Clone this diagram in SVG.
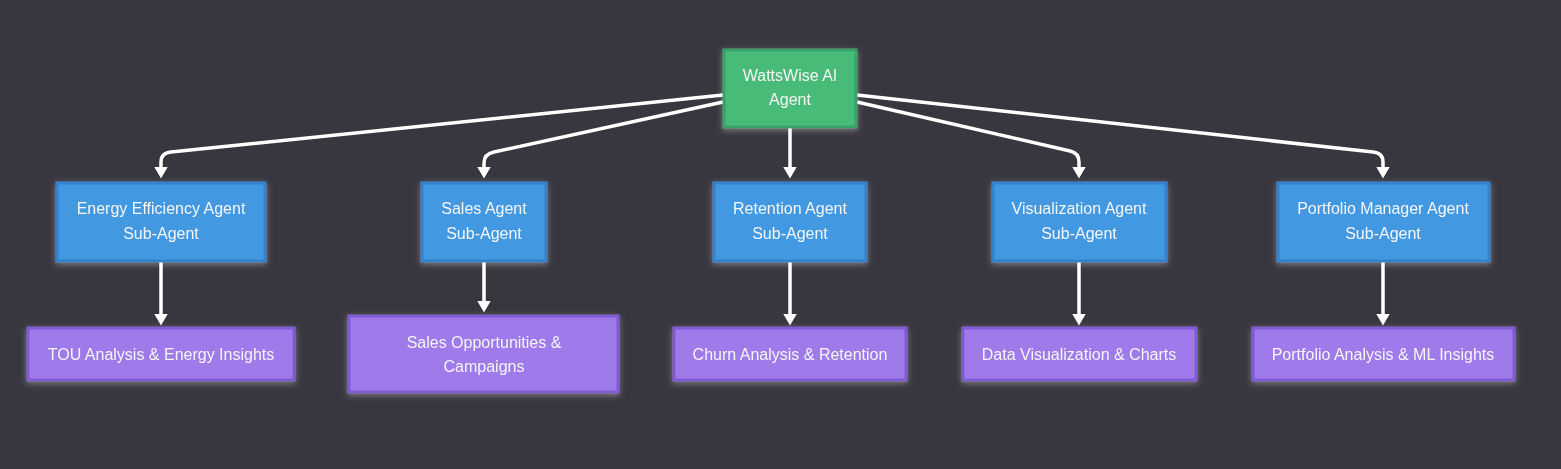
<svg xmlns="http://www.w3.org/2000/svg" width="1561" height="469" viewBox="0 0 1561 469">
<defs>
<style>
.bg{fill:#38363f}
.root{fill:#48bb78;stroke:#38a169;stroke-width:3}
.sub{fill:#4299e1;stroke:#3182ce;stroke-width:3}
.leaf{fill:#9f7aea;stroke:#805ad5;stroke-width:3}
.t{font-family:"Liberation Sans",Arial,sans-serif;font-size:16px;fill:#f5f5f5;text-anchor:middle}
.e{fill:none;stroke:#ffffff;stroke-width:3.5;marker-end:url(#arr)}
</style>
<filter id="glow" x="-20%" y="-30%" width="140%" height="160%">
<feDropShadow dx="0" dy="2" stdDeviation="3" flood-color="#ffffff" flood-opacity="0.35"/>
</filter>
<marker id="arr" viewBox="0 0 12 14" refX="0.5" refY="7" markerWidth="12" markerHeight="14" markerUnits="userSpaceOnUse" orient="auto">
<path d="M0,0 L12,7 L0,14 z" fill="#ffffff"/>
</marker>
</defs>
<rect class="bg" x="0" y="0" width="1561" height="469"/>
<g id="connectors">
<path class="e" d="M723,95 L171,152 Q161,153 161,162 L161,167"/>
<path class="e" d="M723,102 L494,152 Q484,154 484,163 L484,167"/>
<path class="e" d="M790,128 L790,167"/>
<path class="e" d="M857,102 L1070,151 Q1079,153 1079,162 L1079,167"/>
<path class="e" d="M857,95 L1373,152 Q1383,153 1383,162 L1383,167"/>
<path class="e" d="M161,262 L161,314"/>
<path class="e" d="M484,262 L484,301"/>
<path class="e" d="M790,262 L790,314"/>
<path class="e" d="M1079,262 L1079,314"/>
<path class="e" d="M1383,262 L1383,314"/>
</g>
<g id="root" filter="url(#glow)">
<rect class="root" x="724" y="50" width="132" height="77"/>
<text class="t" x="790" y="81">WattsWise AI</text>
<text class="t" x="790" y="105">Agent</text>
</g>
<g id="energy" filter="url(#glow)">
<rect class="sub" x="57" y="183" width="208" height="78"/>
<text class="t" x="161" y="214">Energy Efficiency Agent</text>
<text class="t" x="161" y="239">Sub-Agent</text>
</g>
<g id="sales" filter="url(#glow)">
<rect class="sub" x="422" y="183" width="124" height="78"/>
<text class="t" x="484" y="214">Sales Agent</text>
<text class="t" x="484" y="239">Sub-Agent</text>
</g>
<g id="retention" filter="url(#glow)">
<rect class="sub" x="714" y="183" width="152" height="78"/>
<text class="t" x="790" y="214">Retention Agent</text>
<text class="t" x="790" y="239">Sub-Agent</text>
</g>
<g id="visualization" filter="url(#glow)">
<rect class="sub" x="993" y="183" width="173" height="78"/>
<text class="t" x="1079" y="214">Visualization Agent</text>
<text class="t" x="1079" y="239">Sub-Agent</text>
</g>
<g id="portfolio" filter="url(#glow)">
<rect class="sub" x="1278" y="183" width="211" height="78"/>
<text class="t" x="1383" y="214">Portfolio Manager Agent</text>
<text class="t" x="1383" y="239">Sub-Agent</text>
</g>
<g id="tou" filter="url(#glow)">
<rect class="leaf" x="28" y="328" width="266" height="52"/>
<text class="t" x="161" y="360">TOU Analysis &amp; Energy Insights</text>
</g>
<g id="salesopp" filter="url(#glow)">
<rect class="leaf" x="349" y="316" width="269" height="76"/>
<text class="t" x="484" y="348">Sales Opportunities &amp;</text>
<text class="t" x="484" y="372">Campaigns</text>
</g>
<g id="churn" filter="url(#glow)">
<rect class="leaf" x="674" y="328" width="232" height="52"/>
<text class="t" x="790" y="360">Churn Analysis &amp; Retention</text>
</g>
<g id="dataviz" filter="url(#glow)">
<rect class="leaf" x="963" y="328" width="233" height="52"/>
<text class="t" x="1079" y="360">Data Visualization &amp; Charts</text>
</g>
<g id="portfolioanalysis" filter="url(#glow)">
<rect class="leaf" x="1253" y="328" width="261" height="52"/>
<text class="t" x="1383" y="360">Portfolio Analysis &amp; ML Insights</text>
</g>
</svg>
